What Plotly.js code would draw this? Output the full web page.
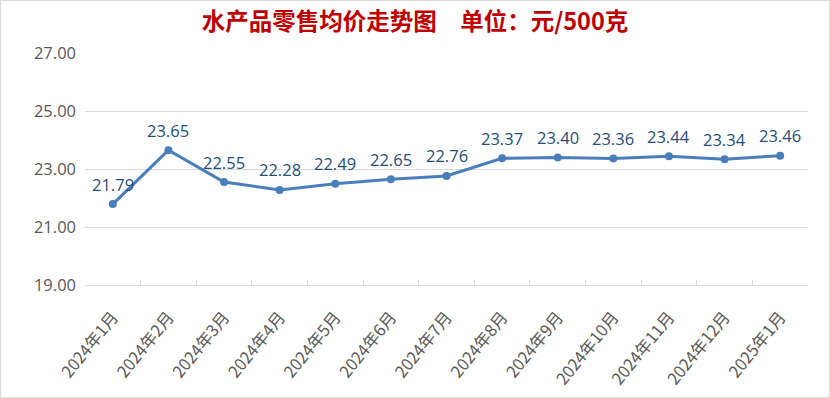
<!DOCTYPE html>
<html><head><meta charset="utf-8">
<script src="https://cdn.plot.ly/plotly-3.0.1.min.js"></script>
<style>
html,body{margin:0;padding:0;background:#fff;}
#wrap{position:relative;width:830px;height:398px;}
#chart{position:absolute;left:0;top:0;width:830px;height:398px;}
#border{position:absolute;left:0;top:0;width:828px;height:396px;border:1px solid #d9d9d9;pointer-events:none;}
</style></head>
<body>
<div id="wrap"><div id="chart"></div><div id="border"></div></div>
<script>
const months = ["2024年1月","2024年2月","2024年3月","2024年4月","2024年5月","2024年6月","2024年7月","2024年8月","2024年9月","2024年10月","2024年11月","2024年12月","2025年1月"];
const prices = [21.79,23.65,22.55,22.28,22.49,22.65,22.76,23.37,23.40,23.36,23.44,23.34,23.46];
const yTicks = [19,21,23,25,27];

const trace = {
  x: months, y: prices, type: 'scatter', mode: 'lines+markers',
  line: {color: '#4a7ebb', width: 3},
  marker: {color: '#4a7ebb', size: 8},
  cliponaxis: false,
  hoverinfo: 'x+y'
};
const annotations = months.map((m, i) => ({
  x: m, y: prices[i], xref: 'x', yref: 'y',
  text: prices[i].toFixed(2), showarrow: false,
  xanchor: 'center', yanchor: 'middle', yshift: 20,
  font: {family: '"Open Sans", "Liberation Sans", sans-serif', size: 16.5, color: '#1f4e79'}
}));
const layout = {
  width: 830, height: 398,
  margin: {l: 85, r: 22, t: 53, b: 113},
  paper_bgcolor: '#fff', plot_bgcolor: '#fff',
  showlegend: false,
  annotations: annotations,
  title: {text: '水产品零售均价走势图　单位：元/500克', x: 0.5, xanchor: 'center', y: 0.945, yanchor: 'middle',
    font: {family: '"Noto Sans CJK SC", sans-serif', size: 23.5, color: '#c00000', weight: 'bold'}},
  xaxis: {
    type: 'category', range: [-0.5, months.length - 0.5], tickangle: -51, tickson: 'boundaries', automargin: false,
    ticks: 'inside', ticklen: 5, tickcolor: '#d9d9d9', ticklabelstandoff: 15,
    showline: true, linecolor: '#d9d9d9', linewidth: 1,
    showgrid: false, zeroline: false,
    tickfont: {family: '"Noto Sans CJK SC", sans-serif', size: 16.5, color: '#595959'}
  },
  yaxis: {
    range: [19, 27], tickvals: yTicks, ticktext: yTicks.map(v => v.toFixed(2)), automargin: false,
    showgrid: true, gridcolor: '#d9d9d9', gridwidth: 1,
    showline: false, zeroline: false, ticks: '', ticklabelstandoff: 8,
    tickfont: {family: '"Open Sans", "Liberation Sans", sans-serif', size: 16.5, color: '#595959'}
  }
};
Plotly.newPlot('chart', [trace], layout, {staticPlot: true});
</script>
</body></html>
